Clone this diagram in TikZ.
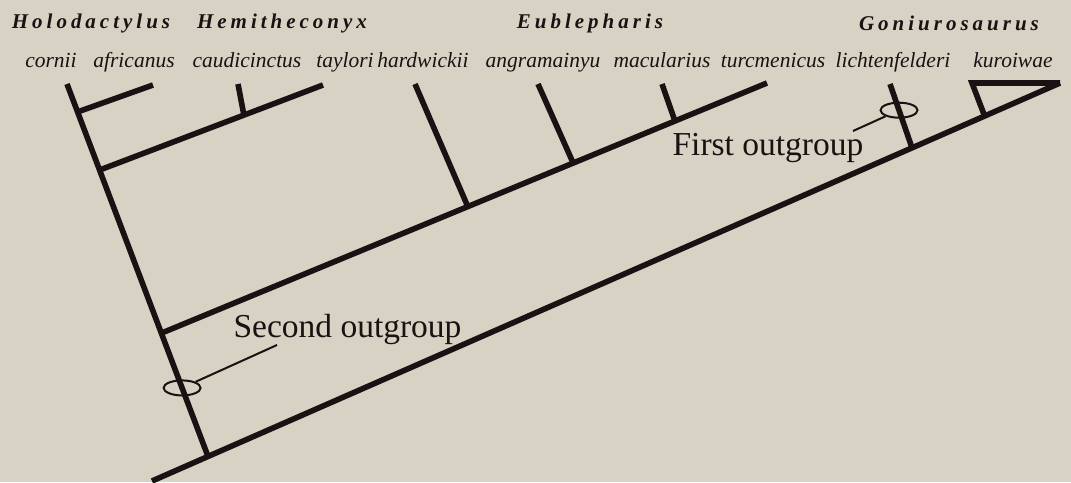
\documentclass[tikz,border=0pt]{standalone}
\usepackage{fontspec}
\setmainfont{Liberation Serif}
\usetikzlibrary{calc,shapes.geometric}
\definecolor{paper}{RGB}{215,210,196}
\definecolor{ink}{RGB}{24,18,18}

\begin{document}
\begin{tikzpicture}[x=1pt, y=-1pt,
    every node/.style={inner sep=0pt, text=ink},
    branch/.style={draw=ink, line width=5.6pt},
    pointer/.style={draw=ink, line width=2pt},
    ring/.style={ellipse, draw=ink, line width=2pt, minimum width=37pt, minimum height=15pt},
    genus/.style={anchor=base, font=\fontsize{21}{24}\selectfont\bfseries\itshape\addfontfeatures{LetterSpace=19}},
    species/.style={anchor=base, font=\fontsize{21.5}{24}\selectfont\itshape},
    note/.style={anchor=base, font=\fontsize{33.5}{38}\selectfont}]
    \fill[paper] (0,0) rectangle (1071,482);
    \useasboundingbox (0,0) rectangle (1071,482);

    % genera
    \node[genus] (holo) at (91,28) {Holodactylus};
    \node[genus] (hemi) at (282,28) {Hemitheconyx};
    \node[genus] (eubl) at (590,28) {Eublepharis};
    \node[genus] (goni) at (949,30) {Goniurosaurus};

    % species
    \node[species] (cornii) at (51,67) {cornii};
    \node[species] (africanus) at (134,67) {africanus};
    \node[species] (caudicinctus) at (247,67) {caudicinctus};
    \node[species] (taylori) at (345,67) {taylori};
    \node[species] (hardwickii) at (423,67) {hardwickii};
    \node[species] (angramainyu) at (543,67) {angramainyu};
    \node[species] (macularius) at (662,67) {macularius};
    \node[species] (turcmenicus) at (773,67) {turcmenicus};
    \node[species] (lichtenfelderi) at (893,67) {lichtenfelderi};
    \node[species] (kuroiwae) at (1013,67) {kuroiwae};

    % tips
    \coordinate (tcor) at (67,84);
    \coordinate (tafr) at (153,85);
    \coordinate (tcau) at (238,84);
    \coordinate (ttay) at (323,85);
    \coordinate (thar) at (415,84);
    \coordinate (tang) at (538,84);
    \coordinate (tmac) at (662,84);
    \coordinate (ttur) at (767,83);
    \coordinate (tlic) at (890,84);
    \coordinate (tkur) at (972,83);
    \coordinate (tend) at (1060,83);

    % joints
    \coordinate (root) at (152,481);
    \coordinate (jstem) at ($(root)!0.0617!(tend)$);
    \coordinate (jholo) at ($(tcor)!0.075!(jstem)$);
    \coordinate (jhemi) at ($(tcor)!0.231!(jstem)$);
    \coordinate (jeubl) at ($(tcor)!0.669!(jstem)$);
    \coordinate (jcau) at ($(jhemi)!0.646!(ttay)$);
    \coordinate (jhar) at ($(jeubl)!0.506!(ttur)$);
    \coordinate (jang) at ($(jeubl)!0.680!(ttur)$);
    \coordinate (jmac) at ($(jeubl)!0.848!(ttur)$);
    \coordinate (jlic) at ($(root)!0.837!(tend)$);
    \coordinate (jkur) at ($(root)!0.917!(tend)$);

    % edges
    \draw[branch] (root) -- (tend);
    \draw[branch] (tcor) -- (jstem);
    \draw[branch] (jholo) -- (tafr);
    \draw[branch] (jhemi) -- (ttay);
    \draw[branch] (jcau) -- (tcau);
    \draw[branch] (jeubl) -- (ttur);
    \draw[branch] (jhar) -- (thar);
    \draw[branch] (jang) -- (tang);
    \draw[branch] (jmac) -- (tmac);
    \draw[branch] (jlic) -- (tlic);
    \draw[branch, line join=miter] (jkur) -- (tkur) -- (tend);

    % outgroups
    \node[ring] (ring2) at ($(tcor)!0.816!(jstem)$) {};
    \node[ring] (ring1) at ($(tlic)!0.41!(jlic)$) {};
    \coordinate (p2) at (277,345);
    \coordinate (p1) at (853,131);
    \draw[pointer] (ring2) -- (p2);
    \draw[pointer] (ring1) -- (p1);
    \node[note] (second) at (347.5,337) {Second outgroup};
    \node[note] (first) at (768,155) {First outgroup};
\end{tikzpicture}
\end{document}
